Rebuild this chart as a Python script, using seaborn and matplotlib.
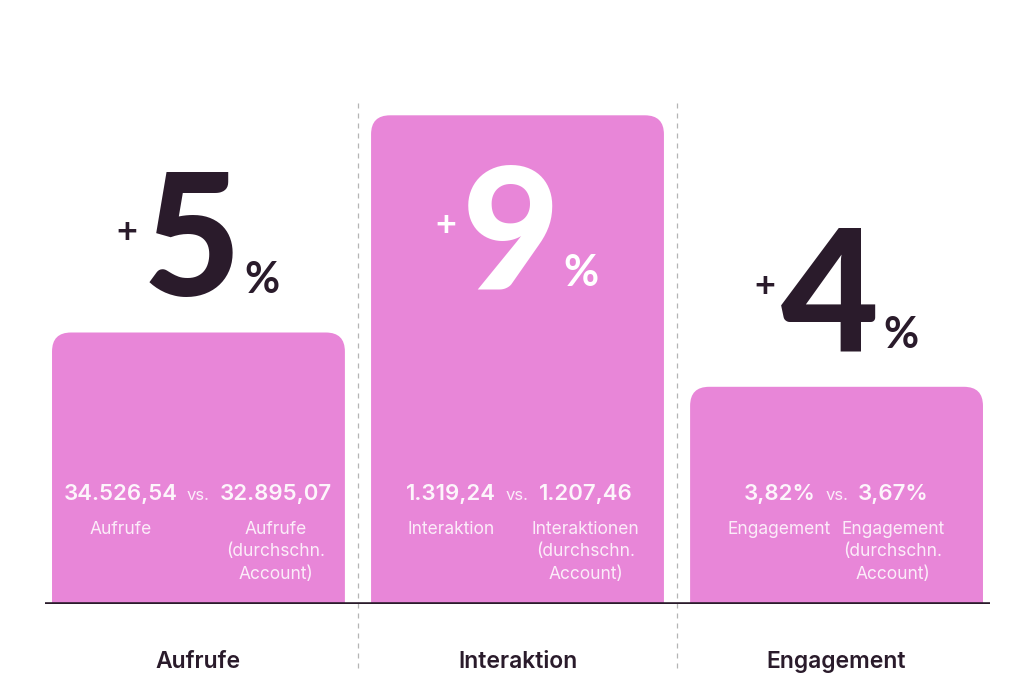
import matplotlib
matplotlib.use("Agg")
import matplotlib.pyplot as plt
import seaborn as sns
from matplotlib.patches import FancyBboxPatch

# data
categories = ["Aufrufe", "Interaktion", "Engagement"]
growth = [5, 9, 4]
own_values = ["34.526,54", "1.319,24", "3,82%"]
avg_values = ["32.895,07", "1.207,46", "3,67%"]
own_labels = ["Aufrufe", "Interaktion", "Engagement"]
avg_labels = ["Aufrufe\n(durchschn.\nAccount)",
              "Interaktionen\n(durchschn.\nAccount)",
              "Engagement\n(durchschn.\nAccount)"]

PINK = "#E886D8"
DARK = "#2A1B2B"
BIG = ["Lato", "DejaVu Sans"]
SMALL = ["Inter", "Lato", "DejaVu Sans"]

sns.set_style("white")
plt.rcParams["font.family"] = SMALL

fig = plt.figure(figsize=(10.24, 6.9), dpi=100)
ax = fig.add_axes([45 / 1024, 86 / 690, 945 / 1024, 543 / 690])

sns.barplot(x=categories, y=growth, color=PINK, width=0.918, saturation=1, ax=ax)
ax.set_xlim(-0.481, 2.481)
ax.set_ylim(0, 10)

# replace bars with top-rounded ones
fig.canvas.draw()
px_x = ax.transData.transform((1, 0))[0] - ax.transData.transform((0, 0))[0]
px_y = ax.transData.transform((0, 1))[1] - ax.transData.transform((0, 0))[1]
aspect = px_x / px_y
r = 19 / px_x
for p in list(ax.patches):
    x, w, h = p.get_x(), p.get_width(), p.get_height()
    p.remove()
    ax.add_patch(FancyBboxPatch((x, -r * aspect), w, h + r * aspect,
                                boxstyle=f"round,pad=0,rounding_size={r}",
                                mutation_aspect=aspect, fc=PINK, ec="none", zorder=2))

ax.axhline(0, color=DARK, lw=2.6, zorder=3)
for xv in [0.5, 1.5]:
    ax.axvline(xv, ymin=-0.118, ymax=0.928, clip_on=False, color="#b5b5b5",
               lw=0.9, ls=(0, (4, 4)), zorder=1)

top = max(growth)
for i, v in enumerate(growth):
    inside = v == top
    col = "white" if inside else DARK
    y_dig = v - 3.2 if inside else v + 0.67
    dig = ax.annotate(str(v), xy=(i, y_dig), xytext=(-5, 0), textcoords="offset points",
                      ha="center", va="baseline", fontsize=122, fontweight="black",
                      family=BIG, color=col, zorder=4)
    ax.annotate("+", xy=(0, y_dig), xycoords=(dig, "data"), xytext=(-4, 46),
                textcoords="offset points", ha="right", va="center", family=BIG,
                fontsize=26, fontweight="bold", color=col, zorder=4)
    ax.annotate("%", xy=(1, y_dig), xycoords=(dig, "data"), xytext=(3, 2),
                textcoords="offset points", ha="left", va="baseline", family=BIG,
                fontsize=31, fontweight="bold", color=col, zorder=4)

    # comparison line inside the bar
    vs = ax.text(i, 1.92, "vs.", ha="center", va="baseline", fontsize=12,
                 color="white", alpha=0.85, zorder=4)
    left = ax.annotate(own_values[i], xy=(0, 1.92), xycoords=(vs, "data"),
                       xytext=(-7, 0), textcoords="offset points", ha="right",
                       va="baseline", fontsize=16, fontweight="semibold",
                       color="white", alpha=0.92, zorder=4)
    right = ax.annotate(avg_values[i], xy=(1, 1.92), xycoords=(vs, "data"),
                        xytext=(7, 0), textcoords="offset points", ha="left",
                        va="baseline", fontsize=16, fontweight="semibold",
                        color="white", alpha=0.92, zorder=4)
    ax.annotate(own_labels[i], xy=(0.5, 1.53), xycoords=(left, "data"),
                ha="center", va="top", fontsize=12.5, color="white",
                alpha=0.85, zorder=4)
    ax.annotate(avg_labels[i], xy=(0.5, 1.53), xycoords=(right, "data"),
                ha="center", va="top", fontsize=12.5, color="white",
                alpha=0.85, multialignment="center", linespacing=1.42, zorder=4)

ax.set_xticks(range(len(categories)))
ax.set_xticklabels(categories, fontsize=16.5, fontweight="semibold", color=DARK)
ax.tick_params(axis="x", length=0, pad=34)
ax.set_yticks([])
ax.set_xlabel("")
ax.set_ylabel("")
sns.despine(ax=ax, left=True, bottom=True)

fig.savefig("out.png", dpi=100)
